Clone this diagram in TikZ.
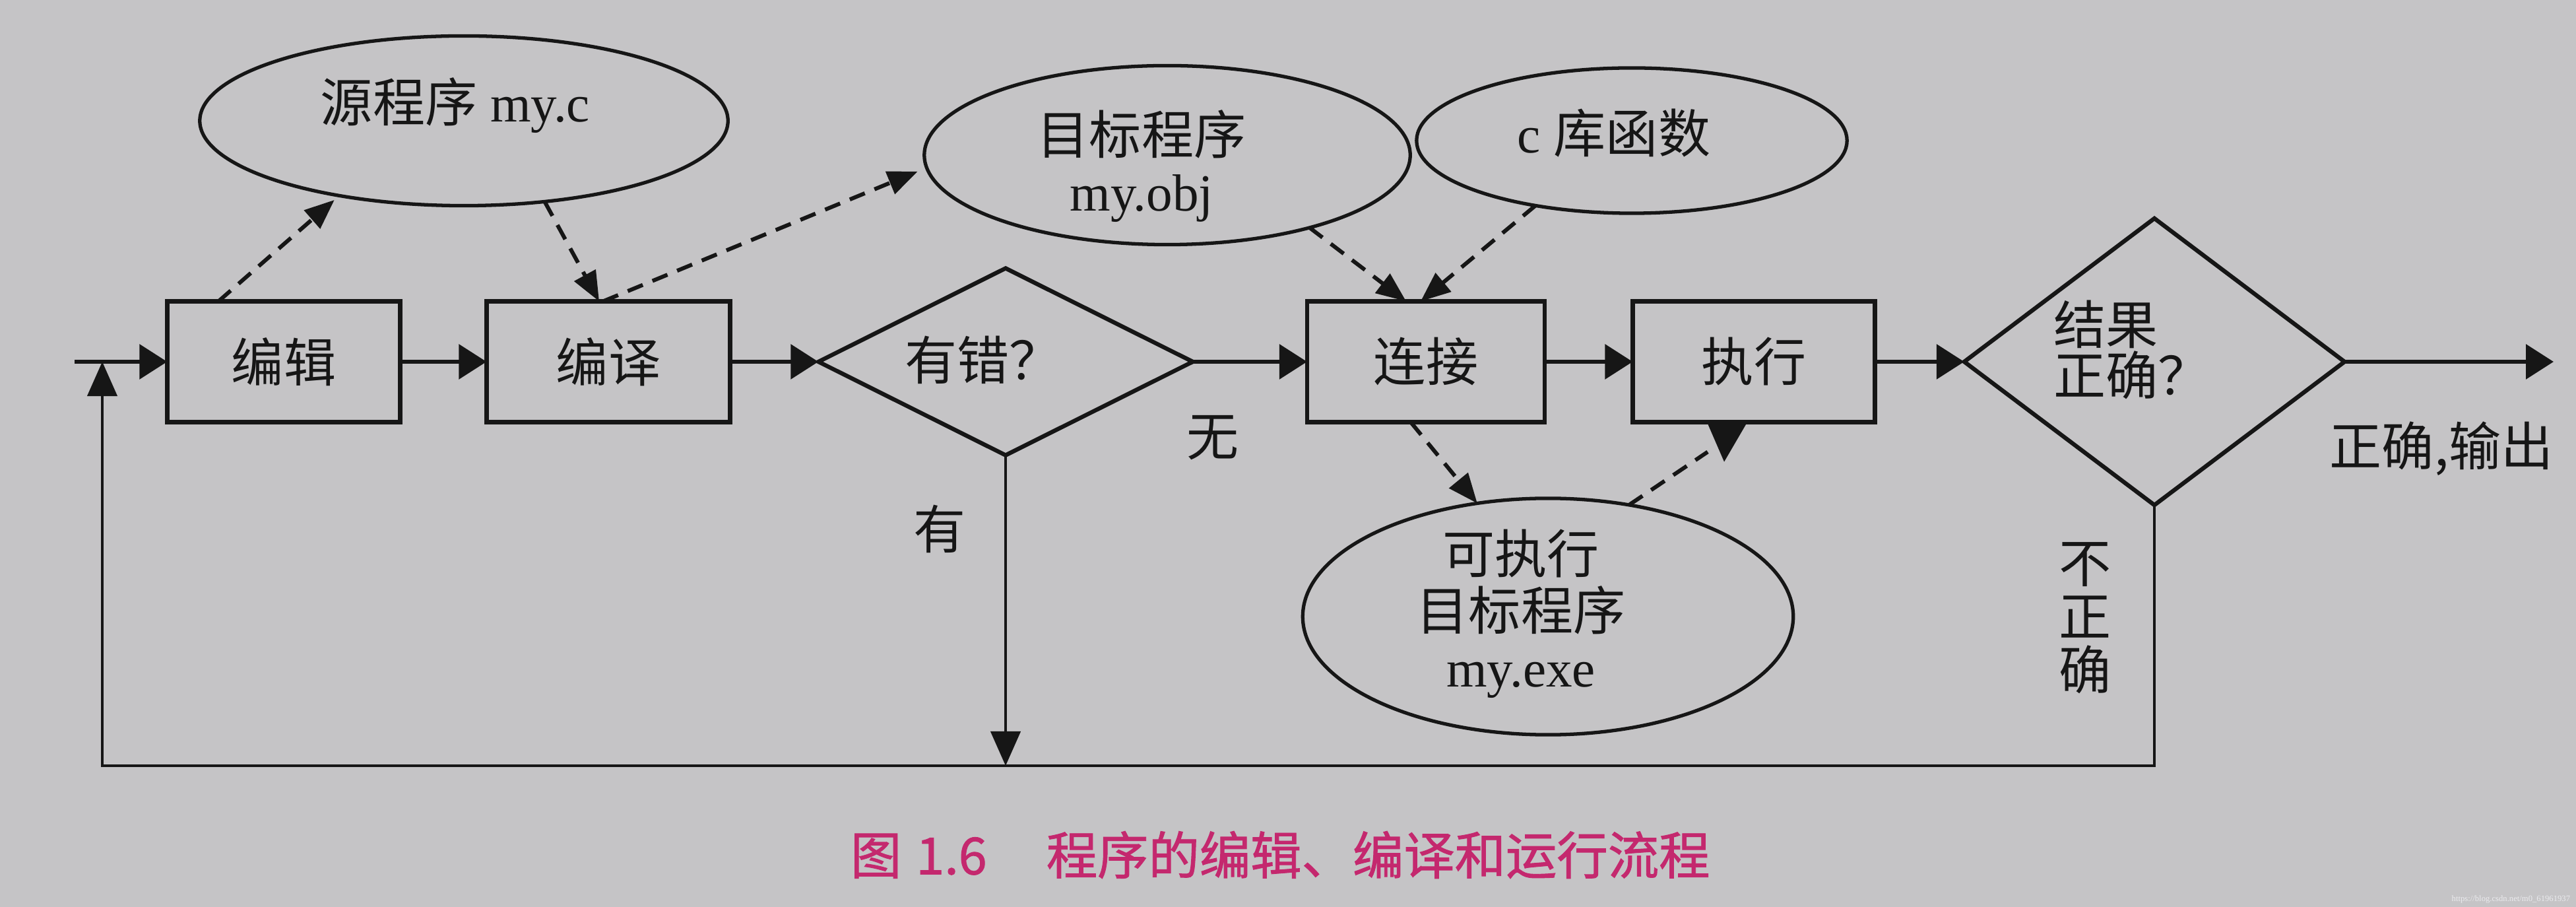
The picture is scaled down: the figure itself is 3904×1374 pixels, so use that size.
\documentclass[tikz,border=0pt]{standalone}
\usepackage{fontspec}
\setmainfont{Liberation Serif}[Scale=1.0]
\newfontfamily\cjk{Noto Sans CJK SC}
\newfontfamily\cjkb{Noto Sans CJK SC}[FakeBold=1.2]
\usetikzlibrary{shapes.geometric,arrows.meta,calc}
\definecolor{paper}{RGB}{197,196,198}
\definecolor{ink}{RGB}{22,22,22}
\definecolor{capc}{RGB}{196,40,110}
\definecolor{wm}{RGB}{235,235,238}
\begin{document}
\begin{tikzpicture}[x=0.01cm,y=-0.01cm,
  every node/.style={inner sep=0pt, outer sep=0pt},
  box/.style={draw=ink, line width=1.9pt, rectangle, minimum height=1.83cm,
              text=ink, font=\fontsize{22.5}{24.5}\selectfont\cjk},
  ell/.style={draw=ink, line width=1.5pt, ellipse},
  dia/.style={draw=ink, line width=1.8pt, diamond},
  lbl/.style={text=ink, font=\fontsize{22.5}{24.5}\selectfont, align=center},
  clbl/.style={text=ink, font=\fontsize{22.5}{24.5}\selectfont\cjk, align=center},
  flow/.style={draw=ink, line width=1.8pt, -{Triangle[length=0.42cm,width=0.52cm]}},
  fine/.style={draw=ink, line width=1.2pt},
  finearrow/.style={fine, -{Triangle[length=0.52cm,width=0.45cm]}},
  depline/.style={draw=ink, line width=1.7pt, dash pattern=on 7pt off 4.5pt},
  dep/.style={depline, -{Triangle[length=0.45cm,width=0.36cm]}},
]
% paper background and frame
\fill[paper] (0,0) rectangle (3904,1374);
\useasboundingbox (0,0) rectangle (3904,1374);

% ellipses
\node[ell, minimum width=8cm, minimum height=2.57cm] (src) at (703,183) {};
\node[lbl] (srct) at (690,160) {{\cjk 源程序} my.c};
\node[ell, minimum width=7.36cm, minimum height=2.71cm] (obj) at (1769,235) {};
\node[lbl] (objt) at (1730,252) {{\cjk 目标程序}\\my.obj};
\node[ell, minimum width=6.52cm, minimum height=2.2cm] (lib) at (2473,213) {};
\node[lbl] (libt) at (2446,202) {c {\cjk 库函数}};
\node[ell, minimum width=7.43cm, minimum height=3.58cm] (exe) at (2346,934) {};
\node[lbl] (exet) at (2305,930) {{\cjk 可执行}\\{\cjk 目标程序}\\my.exe};

% boxes
\node[box, minimum width=3.53cm] (edit) at (430,548) {编辑};
\node[box, minimum width=3.69cm] (comp) at (922,548) {编译};
\node[box, minimum width=3.6cm] (link) at (2161,548) {连接};
\node[box, minimum width=3.67cm] (exec) at (2658,548) {执行};

% decisions
\node[dia, minimum width=5.67cm, minimum height=2.83cm] (err) at (1524,548) {};
\node[clbl] (errt) at (1490,545) {有错？};
\node[dia, minimum width=5.76cm, minimum height=4.34cm] (ok) at (3265,548) {};
\node[clbl, align=left, font=\fontsize{22.5}{20}\selectfont\cjk] (okt) at (3231,530) {结果\\正确？};

% labels
\node[clbl] (wu) at (1838,663) {无};
\node[clbl] (you) at (1424,801) {有};
\node[clbl] (outl) at (3700,680) {正确,输出};
\node[clbl, font=\fontsize{22.5}{23}\selectfont\cjk] (bzq) at (3160,936) {不\\正\\确};

% coordinates
\coordinate (entry) at (113,548);
\coordinate (exit) at (3870,548);
\coordinate (bl) at (155,1160);

% main flow
\draw[flow] (entry) -- (edit);
\draw[flow] (edit) -- (comp);
\draw[flow] (comp) -- (err);
\draw[flow] (err) -- (link);
\draw[flow] (link) -- (exec);
\draw[flow] (exec) -- (ok);
\draw[flow] (ok) -- (exit);

% feedback and error branch
\draw[finearrow] (ok.south) -- (ok.south |- bl) -- (bl) -- (bl |- entry);
\draw[finearrow] (err.south) -- (err.south |- bl);

% dashed data flow
\draw[dep, shorten >=0.1cm] ($(edit.north west)!0.22!(edit.north east)$) -- (src.211);
\draw[dep] (src.-45) -- ($(comp.north)+(-14,0)$);
\draw[dep, shorten >=0.15cm] ($(comp.north)+(-8,0)$) -- (obj.183);
\draw[dep] (obj.-27) -- ($(link.north)+(-30,0)$);
\draw[dep] (lib.214) -- ($(link.north)+(-8,0)$);
\draw[dep] ($(link.south)+(-23,0)$) -- (exe.122);
\draw[depline] (exe.54) -- ($(exec.south)+(-70,45)$);
\fill[ink] ($(exec.south)+(-71,0)$) -- ($(exec.south)+(-10,0)$) -- ($(exec.south)+(-45,60)$) -- cycle;

% caption
\node[anchor=west, text=capc, font=\fontsize{22}{24}\selectfont\cjkb] (cap) at (1289,1295)
  {图\hspace{0.22cm}1.6\hspace{0.9cm}程序的编辑、编译和运行流程};
\node[anchor=east, text=wm, font=\fontsize{3.6}{4}\selectfont] (wmk) at (3895,1362) {https://blog.csdn.net/m0\_61961937};
\end{tikzpicture}
\end{document}
